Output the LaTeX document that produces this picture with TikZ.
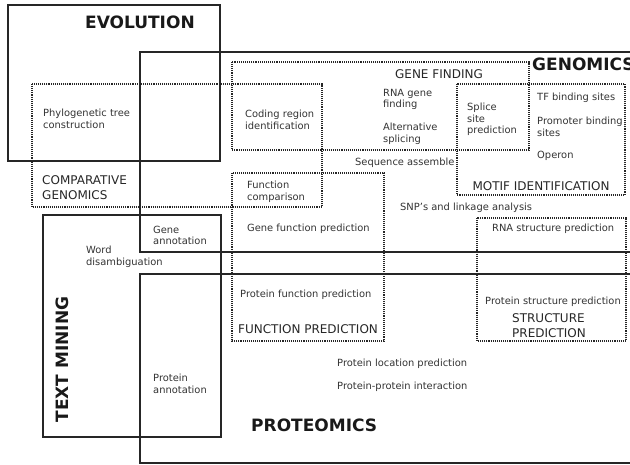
\documentclass[tikz,border=0pt]{standalone}
\usepackage{fontspec}
\setmainfont{DejaVu Sans}
\begin{document}
\begin{tikzpicture}[x=1pt, y=-1pt,
		area/.style={line width=2.4pt, draw=black!85},
		zone/.style={densely dotted, line width=1.1pt, draw=black!85},
		lbl/.style={anchor=west, inner sep=0pt, align=left, font=\fontsize{9.9}{11.7}\selectfont, text=black!80},
		zonetitle/.style={inner sep=0pt, align=left, font=\fontsize{12}{15}\selectfont, text=black!85},
		title/.style={anchor=west, inner sep=0pt, font=\fontsize{17}{20}\selectfont\bfseries, text=black!90}]
			\useasboundingbox (0, 0) rectangle (630, 465);
			\clip (0, 0) rectangle (630, 465);
			
			% Большие области
			\draw[area] (8, 5) rectangle (220, 161);
			\draw[area] (640, 52) -- (140, 52) -- (140, 252) -- (640, 252);
			\draw[area] (640, 274) -- (140, 274) -- (140, 463) -- (640, 463);
			\draw[area] (43, 215) rectangle (221, 437);
			
			% Подобласти (пунктир); общие стороны рисуются один раз
			\draw[zone] (232, 62) rectangle (529, 150);
			\draw[zone] (32, 84) rectangle (322, 207);
			\draw[zone] (457, 84) rectangle (625, 195);
			\draw[zone] (232, 173) rectangle (384, 341);
			\draw[zone] (477, 218) rectangle (626, 341);
			
			% Заголовки
			\node[title] (evo) at (85, 22) {EVOLUTION};
			\node[title] (gen) at (532, 64) {GENOMICS};
			\node[title] (prot) at (251, 425) {PROTEOMICS};
			\node[title, anchor=center, rotate=90] (txt) at (62, 359.5) {TEXT MINING};
			
			% Названия подобластей
			\node[zonetitle, anchor=west] (comp) at (42, 187.5) {COMPARATIVE\\GENOMICS};
			\node[zonetitle] (genefind) at (439, 74) {GENE FINDING};
			\node[zonetitle] (motif) at (541, 186) {MOTIF IDENTIFICATION};
			\node[zonetitle, anchor=west] (funcpred) at (238, 329) {FUNCTION PREDICTION};
			\node[zonetitle, anchor=west] (structpred) at (512, 325.5) {STRUCTURE\\PREDICTION};
			
			% Задачи
			\node[lbl] (phylo) at (43, 119) {Phylogenetic tree\\construction};
			\node[lbl] (coding) at (245, 120) {Coding region\\identification};
			\node[lbl] (rnagene) at (383, 99.5) {RNA gene\\finding};
			\node[lbl] (altspl) at (383, 134) {Alternative\\splicing};
			\node[lbl] (splice) at (467, 119.5) {Splice\\site\\prediction};
			\node[lbl] (tf) at (537, 98) {TF binding sites};
			\node[lbl] (promoter) at (537, 126.5) {Promoter binding\\sites};
			\node[lbl] (operon) at (537, 156) {Operon};
			\node[lbl] (seqass) at (355, 163) {Sequence assemble};
			\node[lbl] (funccomp) at (247, 192) {Function\\comparison};
			\node[lbl] (snp) at (400, 208) {SNP's and linkage analysis};
			\node[lbl] (genefunc) at (247, 229) {Gene function prediction};
			\node[lbl] (rnastruct) at (492, 229) {RNA structure prediction};
			\node[lbl] (geneann) at (153, 235.5) {Gene\\annotation};
			\node[lbl] (word) at (86, 257) {Word\\disambiguation};
			\node[lbl] (protfunc) at (240, 295) {Protein function prediction};
			\node[lbl] (protstruct) at (485, 302) {Protein structure prediction};
			\node[lbl] (protloc) at (337, 364) {Protein location prediction};
			\node[lbl] (ppi) at (337, 387) {Protein-protein interaction};
			\node[lbl] (protann) at (153, 383.5) {Protein\\annotation};
		\end{tikzpicture}
\end{document}
